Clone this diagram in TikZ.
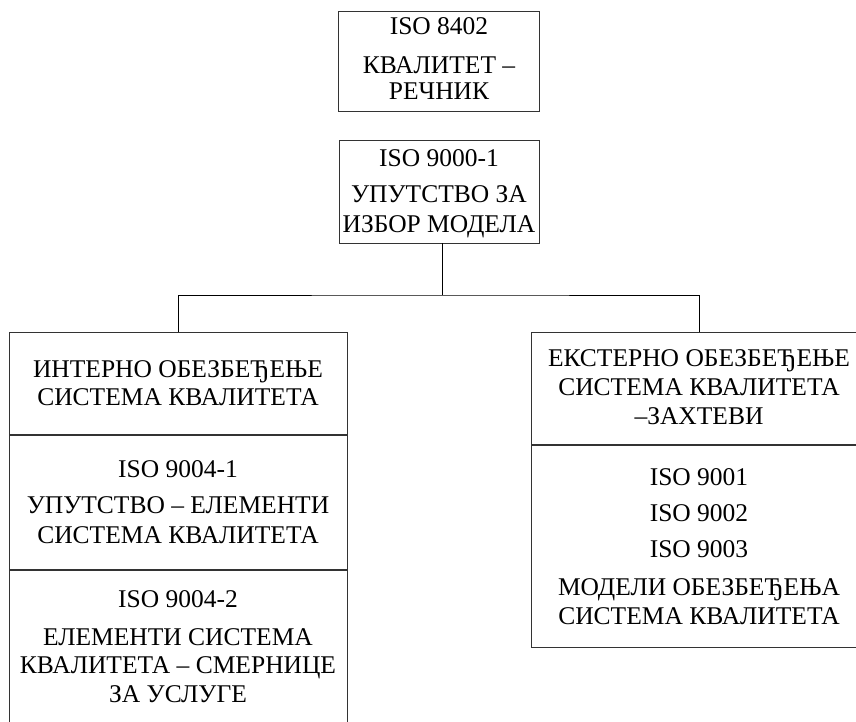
\documentclass[tikz,border=0pt]{standalone}
\usepackage{fontspec}
\setmainfont{Liberation Serif}
\begin{document}
\begin{tikzpicture}[x=1pt,y=-1pt,
  box/.style={draw=black!80,line width=0.9pt,inner sep=0pt,outer sep=0pt},
  lbl/.style={anchor=base,inner sep=0pt,font=\fontsize{25.5}{29}\selectfont},
  conn/.style={draw=black,line width=0.9pt}]
\useasboundingbox[fill=white] (0,0) rectangle (856,722);
% boxes
\node[box,minimum width=201pt,minimum height=100pt] (b1) at (438.5,61) {};
\node[box,minimum width=200pt,minimum height=103pt] (b2) at (439,191.5) {};
\node[box,minimum width=338pt,minimum height=102pt] (lA) at (178,383) {};
\node[box,minimum width=338pt,minimum height=134pt] (lB) at (178,502) {};
\node[box,minimum width=338pt,minimum height=190pt] (lC) at (178,665) {};
\node[box,minimum width=336pt,minimum height=112pt] (rA) at (699,388) {};
\node[box,minimum width=336pt,minimum height=202pt] (rB) at (699,546) {};
% connectors
\coordinate (j) at (442,295);
\draw[conn] (b2.south -| j) -- (j);
\draw[conn] (lA.north) |- (j) -| (rA.north);
% texts
\node[lbl] (t11) at (439,35) {ISO 8402};
\node[lbl] (t12) at (439,74) {КВАЛИТЕТ –};
\node[lbl] (t13) at (439,100) {РЕЧНИК};
\node[lbl] (t21) at (439,167) {ISO 9000-1};
\node[lbl] (t22) at (439,203) {УПУТСТВО ЗА};
\node[lbl] (t23) at (439,232) {ИЗБОР МОДЕЛА};
\node[lbl] (la1) at (178,377) {ИНТЕРНО ОБЕЗБЕЂЕЊЕ};
\node[lbl] (la2) at (178,405) {СИСТЕМА КВАЛИТЕТА};
\node[lbl] (lb1) at (178,477) {ISO 9004-1};
\node[lbl] (lb2) at (178,513) {УПУТСТВО – ЕЛЕМЕНТИ};
\node[lbl] (lb3) at (178,543) {СИСТЕМА КВАЛИТЕТА};
\node[lbl] (lc1) at (178,607) {ISO 9004-2};
\node[lbl] (lc2) at (178,645) {ЕЛЕМЕНТИ СИСТЕМА};
\node[lbl] (lc3) at (178,673) {КВАЛИТЕТА – СМЕРНИЦЕ};
\node[lbl] (lc4) at (178,702) {ЗА УСЛУГЕ};
\node[lbl] (ra1) at (699,366) {ЕКСТЕРНО ОБЕЗБЕЂЕЊЕ};
\node[lbl] (ra2) at (699,395) {СИСТЕМА КВАЛИТЕТА};
\node[lbl] (ra3) at (699,424) {–ЗАХТЕВИ};
\node[lbl] (rb1) at (699,485) {ISO 9001};
\node[lbl] (rb2) at (699,521) {ISO 9002};
\node[lbl] (rb3) at (699,557) {ISO 9003};
\node[lbl] (rb4) at (699,595) {МОДЕЛИ ОБЕЗБЕЂЕЊА};
\node[lbl] (rb5) at (699,624) {СИСТЕМА КВАЛИТЕТА};
\end{tikzpicture}
\end{document}
